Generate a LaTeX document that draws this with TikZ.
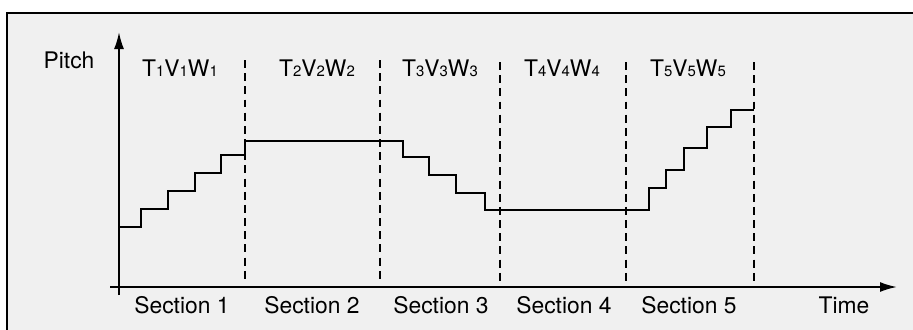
\documentclass[tikz,border=0pt]{standalone}
\usepackage{fontspec}
\setmainfont{TeX Gyre Heros}
\usetikzlibrary{arrows.meta, positioning}

\definecolor{paper}{HTML}{F0F0F0}
\newcommand{\sub}[1]{{\fontsize{8.5}{9}\selectfont #1}}

\begin{document}
\begin{tikzpicture}[
        x = 0.02cm, y = -0.02cm,
        >= {Latex[length = 3.4mm, width = 2mm]},
        frame/.style = {draw = black, line width = 1.6pt, fill = paper},
        axis/.style = {line width = 1.1pt},
        divider/.style = {line width = 1pt, dash pattern = on 4.5pt off 3pt},
        pitchline/.style = {line width = 1.4pt, line join = miter},
        tag/.style = {font = \fontsize{13}{15}\selectfont, anchor = base, inner sep = 0pt}
    ]

      \useasboundingbox (0,0) rectangle (913,329);
      \fill[white] (0,0) rectangle (913,329);
      \clip (0,0) rectangle (913,329);
      \draw[frame] (7,13) rectangle (940,350);

      % axes
      \coordinate (origin) at (119,287);
      \coordinate (ybot) at (119,295);
      \coordinate (ytop) at (119,32);
      \coordinate (xbeg) at (110,287);
      \coordinate (xend) at (897,287);

      \draw[axis, ->] (ybot) -- (ytop);
      \draw[axis, ->] (xbeg) -- (xend);

      % section borders
      \draw[divider] (245,60) -- (245,284);
      \draw[divider] (380,60) -- (380,284);
      \draw[divider] (500,62) -- (500,284);
      \draw[divider] (626,62) -- (626,284);
      \draw[divider] (754,62) -- (754,284);

      % pitch contour
      \draw[pitchline] (119,227) -| (141,209) -| (168,191) -| (195,173)
            -| (221,155) -| (245,141) -| (403,157) -| (429,175) -| (456,193)
            -| (485,210) -| (649,188) -| (666,170) -| (684,148) -| (707,127)
            -| (731,110) -- (754,110);

      \node[tag] (pitch) at (69,68) {Pitch};
      \node[tag] (tvw1) at (180,76) {T\sub1V\sub1W\sub1};
      \node[tag] (tvw2) at (317,76) {T\sub2V\sub2W\sub2};
      \node[tag] (tvw3) at (440,76) {T\sub3V\sub3W\sub3};
      \node[tag] (tvw4) at (562,76) {T\sub4V\sub4W\sub4};
      \node[tag] (tvw5) at (688,76) {T\sub5V\sub5W\sub5};

      \node[tag] (sec1) at (182,313) {Section 1};
      \node[tag] (sec2) at (312,313) {Section 2};
      \node[tag] (sec3) at (441,313) {Section 3};
      \node[tag] (sec4) at (564,313) {Section 4};
      \node[tag] (sec5) at (689,313) {Section 5};
      \node[tag] (time) at (844,313) {Time};

    \end{tikzpicture}
\end{document}
